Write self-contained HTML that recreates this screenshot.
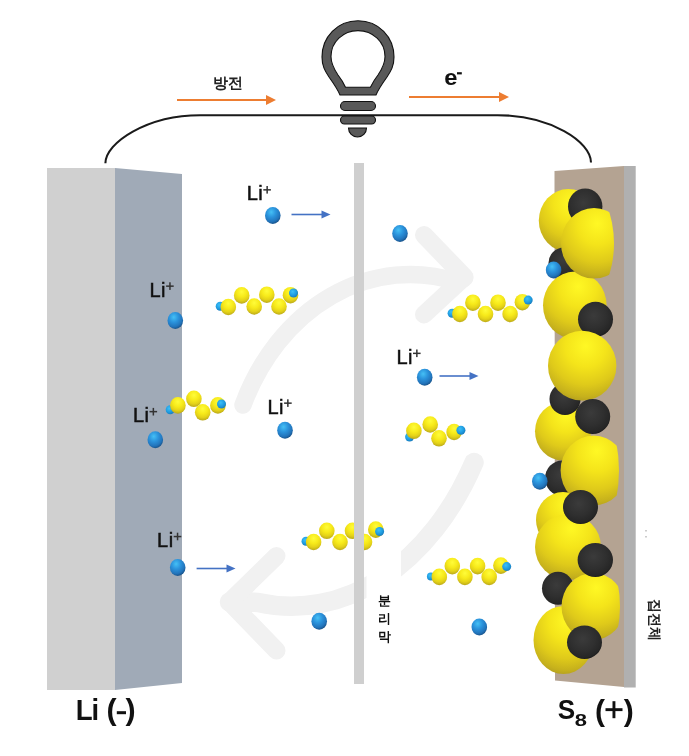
<!DOCTYPE html><html><head><meta charset="utf-8"><style>
html,body{margin:0;padding:0;background:#fff;width:689px;height:756px;overflow:hidden}
svg{display:block;will-change:transform}
text{font-family:"Liberation Sans",sans-serif}
</style></head><body>
<svg width="689" height="756" viewBox="0 0 689 756">
<defs>
<radialGradient id="gIon" cx="40%" cy="30%" r="75%">
<stop offset="0" stop-color="#45c0f5"/><stop offset="0.4" stop-color="#2b93dc"/><stop offset="0.75" stop-color="#2274bb"/><stop offset="1" stop-color="#174a7c"/></radialGradient>
<radialGradient id="gTip" cx="40%" cy="35%" r="70%">
<stop offset="0" stop-color="#3cc0f8"/><stop offset="0.6" stop-color="#1e9be0"/><stop offset="1" stop-color="#1a78b8"/></radialGradient>
<radialGradient id="gY" cx="50%" cy="28%" r="78%">
<stop offset="0" stop-color="#fffc3a"/><stop offset="0.4" stop-color="#f7ea1a"/><stop offset="0.68" stop-color="#e4d218"/><stop offset="0.88" stop-color="#c2b01a"/><stop offset="1" stop-color="#9c8c18"/></radialGradient>
<radialGradient id="gBY" cx="55%" cy="22%" r="85%">
<stop offset="0" stop-color="#fff824"/><stop offset="0.35" stop-color="#f4e41a"/><stop offset="0.65" stop-color="#dfca1a"/><stop offset="0.85" stop-color="#c6b11c"/><stop offset="1" stop-color="#a89420"/></radialGradient>
<radialGradient id="gD" cx="45%" cy="40%" r="65%">
<stop offset="0" stop-color="#3b3b3b"/><stop offset="0.55" stop-color="#2f2f2f"/><stop offset="0.85" stop-color="#262626"/><stop offset="1" stop-color="#141414"/></radialGradient>
</defs>
<rect width="689" height="756" fill="#fff"/>

<g fill="none" stroke="#f1f1f1" stroke-linecap="round" stroke-linejoin="round">
<path stroke-width="17.5" d="M243,405 A183,219.6 0 0 1 458,282 L464.5,278"/>
<path stroke-width="18" d="M424,235 L464.5,277 L424,314.5"/>
<path stroke-width="19.5" d="M474,462.5 A212.1,294.5 0 0 1 258,602.4 L229.5,602"/>
<path stroke-width="18" d="M276.5,556 L229.5,602 L276.5,650.5"/>
</g>
<rect x="47" y="168" width="68" height="522" fill="#d0d0d0"/>
<path d="M115,168 L182,174 L182,683 L115,690 Z" fill="#a0aab7"/>
<path d="M554.5,171 L624,166 L624,687 L555,680.5 Z" fill="#b4a392"/>
<rect x="624" y="166" width="11.7" height="521.5" fill="#b0b0b0"/>
<path d="M105.4,163.3 C105.4,142.8 146.9,115.2 200.2,115.2 L497.7,115.2 C550.4,115.2 591,141.7 591,162.5" fill="none" stroke="#1a1a1a" stroke-width="2.1"/>
<g stroke="#111" stroke-width="1.1" fill="#595959">
<path d="M358,20.8 C378.5,20.8 394,37 394,57 C394,66 391,71 387,77 C382,84 378.5,89 376,95 L340,95 C337.5,89 334,84 329,77 C325,71 322,66 322,57 C322,37 337.5,20.8 358,20.8 Z M358,30.6 C373,30.6 385,42 385,56.4 C385,64 382,69 378,75 C374,80 372,84 370.4,87.3 L345.5,87.3 C344,84 342,80 338,75 C334,69 331,64 331,56.4 C331,42 343,30.6 358,30.6 Z" fill-rule="evenodd"/>
<rect x="340.5" y="101.5" width="35" height="9" rx="4.5"/>
<rect x="340.5" y="116" width="35" height="8" rx="4"/>
<path d="M348.5,128 L366.5,128 A9,9 0 0 1 348.5,128 Z"/>
</g>
<text x="228" y="88" font-size="15" font-weight="bold" text-anchor="middle" fill="#222">방전</text>
<line x1="177" y1="100" x2="268" y2="100" stroke="#ed7d31" stroke-width="2.2"/><path d="M266,95 L276,100 L266,105 Z" fill="#ed7d31"/>
<text transform="translate(444.2,84.6) scale(1.08,1)" font-size="22" font-weight="bold" fill="#111">e</text>
<rect x="457" y="72.2" width="4.8" height="2.2" fill="#111"/>
<line x1="409" y1="97" x2="501" y2="97" stroke="#ed7d31" stroke-width="2.2"/><path d="M499,92 L509,97 L499,102 Z" fill="#ed7d31"/>
<text x="246.7" y="200.3" font-size="20" letter-spacing="0.5" fill="#111" stroke="#111" stroke-width="0.5">Li</text><rect x="263.3" y="189.1" width="7.6" height="1.5" fill="#333"/><rect x="266.4" y="186.0" width="1.5" height="7.6" fill="#333"/>
<ellipse cx="272.8" cy="215.5" rx="7.8" ry="8.5" fill="url(#gIon)"/>
<line x1="291.5" y1="214.5" x2="322.5" y2="214.5" stroke="#4472c4" stroke-width="1.6"/><path d="M321.5,210.5 L330.5,214.5 L321.5,218.5 Z" fill="#4472c4"/>
<text x="149.5" y="296.6" font-size="20" letter-spacing="0.5" fill="#111" stroke="#111" stroke-width="0.5">Li</text><rect x="166.1" y="285.4" width="7.6" height="1.5" fill="#333"/><rect x="169.2" y="282.3" width="1.5" height="7.6" fill="#333"/>
<ellipse cx="175.3" cy="320.6" rx="7.8" ry="8.5" fill="url(#gIon)"/>
<circle cx="220.2" cy="306.3" r="4.5" fill="url(#gTip)"/><ellipse cx="228.3" cy="307" rx="7.8" ry="8.3" fill="url(#gY)"/><ellipse cx="241.7" cy="295.4" rx="7.8" ry="8.3" fill="url(#gY)"/><ellipse cx="254.2" cy="306.5" rx="7.8" ry="8.3" fill="url(#gY)"/><ellipse cx="266.8" cy="294.7" rx="7.8" ry="8.3" fill="url(#gY)"/><ellipse cx="279" cy="306.5" rx="7.8" ry="8.3" fill="url(#gY)"/><ellipse cx="290.5" cy="295.2" rx="7.8" ry="8.3" fill="url(#gY)"/><circle cx="293.5" cy="293" r="4.5" fill="url(#gTip)"/>
<text x="132.9" y="422.2" font-size="20" letter-spacing="0.5" fill="#111" stroke="#111" stroke-width="0.5">Li</text><rect x="149.5" y="410.9" width="7.6" height="1.5" fill="#333"/><rect x="152.6" y="407.9" width="1.5" height="7.6" fill="#333"/>
<ellipse cx="155.3" cy="439.8" rx="7.8" ry="8.5" fill="url(#gIon)"/>
<circle cx="170.2" cy="409.8" r="4.5" fill="url(#gTip)"/><ellipse cx="177.9" cy="405.4" rx="7.8" ry="8.3" fill="url(#gY)"/><ellipse cx="193.9" cy="398.8" rx="7.8" ry="8.3" fill="url(#gY)"/><ellipse cx="202.7" cy="412.3" rx="7.8" ry="8.3" fill="url(#gY)"/><ellipse cx="217.9" cy="405.4" rx="7.8" ry="8.3" fill="url(#gY)"/><circle cx="221.5" cy="404" r="4.5" fill="url(#gTip)"/>
<text x="267.5" y="413.6" font-size="20" letter-spacing="0.5" fill="#111" stroke="#111" stroke-width="0.5">Li</text><rect x="284.1" y="402.4" width="7.6" height="1.5" fill="#333"/><rect x="287.1" y="399.3" width="1.5" height="7.6" fill="#333"/>
<ellipse cx="285" cy="430.3" rx="7.8" ry="8.5" fill="url(#gIon)"/>
<text x="157.1" y="547" font-size="20" letter-spacing="0.5" fill="#111" stroke="#111" stroke-width="0.5">Li</text><rect x="173.7" y="535.8" width="7.6" height="1.5" fill="#333"/><rect x="176.8" y="532.7" width="1.5" height="7.6" fill="#333"/>
<ellipse cx="177.7" cy="567.4" rx="7.8" ry="8.5" fill="url(#gIon)"/>
<line x1="196.6" y1="568.5" x2="227.5" y2="568.5" stroke="#4472c4" stroke-width="1.6"/><path d="M226.5,564.5 L235.5,568.5 L226.5,572.5 Z" fill="#4472c4"/>
<circle cx="306" cy="541.3" r="4.5" fill="url(#gTip)"/><ellipse cx="313.6" cy="542" rx="7.8" ry="8.3" fill="url(#gY)"/><ellipse cx="326.8" cy="530.8" rx="7.8" ry="8.3" fill="url(#gY)"/><ellipse cx="340" cy="542" rx="7.8" ry="8.3" fill="url(#gY)"/><ellipse cx="352.5" cy="530.8" rx="7.8" ry="8.3" fill="url(#gY)"/><ellipse cx="364.5" cy="542" rx="7.8" ry="8.3" fill="url(#gY)"/><ellipse cx="375.8" cy="529.6" rx="7.8" ry="8.3" fill="url(#gY)"/><circle cx="379.6" cy="531.5" r="4.5" fill="url(#gTip)"/>
<ellipse cx="319.2" cy="621.3" rx="7.8" ry="8.5" fill="url(#gIon)"/>
<rect x="366.5" y="551" width="34.5" height="110" fill="#fff"/>
<rect x="354" y="163" width="10" height="521" fill="#cfcfcf"/>
<text font-size="13" font-weight="bold" fill="#111"><tspan x="378" y="604.5">분</tspan><tspan x="378" y="622.5">리</tspan><tspan x="378" y="640.5">막</tspan></text>
<ellipse cx="400" cy="233.5" rx="7.8" ry="8.5" fill="url(#gIon)"/>
<circle cx="452.1" cy="313.2" r="4.5" fill="url(#gTip)"/><ellipse cx="459.9" cy="314" rx="7.8" ry="8.3" fill="url(#gY)"/><ellipse cx="472.9" cy="302.7" rx="7.8" ry="8.3" fill="url(#gY)"/><ellipse cx="485.5" cy="314" rx="7.8" ry="8.3" fill="url(#gY)"/><ellipse cx="498" cy="302.7" rx="7.8" ry="8.3" fill="url(#gY)"/><ellipse cx="510.1" cy="314" rx="7.8" ry="8.3" fill="url(#gY)"/><ellipse cx="522.4" cy="302.2" rx="7.8" ry="8.3" fill="url(#gY)"/><circle cx="528.2" cy="300.1" r="4.5" fill="url(#gTip)"/>
<text x="396.40000000000003" y="363.8" font-size="20" letter-spacing="0.5" fill="#111" stroke="#111" stroke-width="0.5">Li</text><rect x="413.0" y="352.6" width="7.6" height="1.5" fill="#333"/><rect x="416.1" y="349.5" width="1.5" height="7.6" fill="#333"/>
<ellipse cx="424.7" cy="377.3" rx="7.8" ry="8.5" fill="url(#gIon)"/>
<line x1="439.5" y1="376" x2="470.5" y2="376" stroke="#4472c4" stroke-width="1.6"/><path d="M469.5,372 L478.5,376 L469.5,380 Z" fill="#4472c4"/>
<circle cx="409.6" cy="437" r="4.5" fill="url(#gTip)"/><ellipse cx="413.9" cy="430.8" rx="7.8" ry="8.3" fill="url(#gY)"/><ellipse cx="430.2" cy="424.5" rx="7.8" ry="8.3" fill="url(#gY)"/><ellipse cx="439" cy="438.3" rx="7.8" ry="8.3" fill="url(#gY)"/><ellipse cx="454.1" cy="432" rx="7.8" ry="8.3" fill="url(#gY)"/><circle cx="460.9" cy="430.3" r="4.5" fill="url(#gTip)"/>
<circle cx="430.9" cy="576.6" r="4" fill="url(#gTip)"/><ellipse cx="439.3" cy="576.9" rx="7.8" ry="8.3" fill="url(#gY)"/><ellipse cx="452.3" cy="566.1" rx="7.8" ry="8.3" fill="url(#gY)"/><ellipse cx="464.9" cy="576.9" rx="7.8" ry="8.3" fill="url(#gY)"/><ellipse cx="477.6" cy="566.1" rx="7.8" ry="8.3" fill="url(#gY)"/><ellipse cx="489.2" cy="576.9" rx="7.8" ry="8.3" fill="url(#gY)"/><ellipse cx="500.9" cy="565.6" rx="7.8" ry="8.3" fill="url(#gY)"/><circle cx="506.7" cy="566.6" r="4.5" fill="url(#gTip)"/>
<ellipse cx="479.3" cy="627.1" rx="7.8" ry="8.5" fill="url(#gIon)"/>
<defs><clipPath id="c3"><circle cx="507" cy="243.3" r="107"/></clipPath><clipPath id="c12"><circle cx="471" cy="470.5" r="148"/></clipPath><clipPath id="c19"><circle cx="500" cy="606.5" r="120"/></clipPath></defs>
<ellipse cx="568.3" cy="220.5" rx="29.5" ry="31.5" fill="url(#gBY)"/>
<ellipse cx="585.2" cy="206.5" rx="17.2" ry="18" fill="url(#gD)"/>
<ellipse cx="564" cy="263" rx="15.5" ry="15.5" fill="url(#gD)"/>
<ellipse cx="553.6" cy="270" rx="7.8" ry="8.5" fill="url(#gIon)"/>
<ellipse cx="574.8" cy="305.3" rx="31.8" ry="33.7" fill="url(#gBY)"/>
<ellipse cx="594" cy="243.3" rx="33" ry="35.3" fill="url(#gBY)" clip-path="url(#c3)"/>
<ellipse cx="595.5" cy="319.3" rx="17.5" ry="17.5" fill="url(#gD)"/>
<ellipse cx="563" cy="431.3" rx="28" ry="29.3" fill="url(#gBY)"/>
<ellipse cx="565" cy="399" rx="15.5" ry="16" fill="url(#gD)"/>
<ellipse cx="582.2" cy="365.7" rx="34.2" ry="34.9" fill="url(#gBY)"/>
<ellipse cx="592.7" cy="416.5" rx="17.5" ry="17.5" fill="url(#gD)"/>
<ellipse cx="562" cy="478.3" rx="17" ry="17.7" fill="url(#gD)"/>
<ellipse cx="539.8" cy="481.3" rx="7.8" ry="8.5" fill="url(#gIon)"/>
<ellipse cx="563" cy="520" rx="27" ry="28" fill="url(#gBY)"/>
<ellipse cx="593.6" cy="470.5" rx="33" ry="35" fill="url(#gBY)" clip-path="url(#c12)"/>
<ellipse cx="568" cy="547" rx="33" ry="33" fill="url(#gBY)"/>
<ellipse cx="580.5" cy="507" rx="17.5" ry="17" fill="url(#gD)"/>
<ellipse cx="563.5" cy="640" rx="30" ry="34" fill="url(#gBY)"/>
<ellipse cx="558" cy="588.3" rx="16" ry="16.5" fill="url(#gD)"/>
<ellipse cx="593" cy="606.5" rx="31.5" ry="33.5" fill="url(#gBY)" clip-path="url(#c19)"/>
<ellipse cx="595.3" cy="560" rx="17.7" ry="17" fill="url(#gD)"/>
<ellipse cx="584.5" cy="642.3" rx="17.5" ry="16.7" fill="url(#gD)"/>
<text transform="translate(75.75,719.6) scale(0.91,1)" x="0" y="0" font-size="30.4" font-weight="bold" fill="#111">L</text>
<text transform="translate(91.49,719.6) scale(0.9,1)" x="0" y="0" font-size="30.4" font-weight="bold" fill="#111">i</text>
<text transform="translate(106.59,720.2) scale(1.0,1)" x="0" y="0" font-size="30.4" font-weight="bold" fill="#111">(</text>
<rect x="116.8" y="711.2" width="9.2" height="3" fill="#111"/>
<text transform="translate(125.47,720.2) scale(1.0,1)" x="0" y="0" font-size="30.4" font-weight="bold" fill="#111">)</text>
<text transform="translate(557.75,719.4) scale(0.93,1)" x="0" y="0" font-size="28.1" font-weight="bold" fill="#111">S</text>
<text transform="translate(574.80,726) scale(1.3,1)" x="0" y="0" font-size="16.9" font-weight="bold" fill="#111">8</text>
<text transform="translate(594.90,720.9) scale(1.0,1)" x="0" y="0" font-size="30.1" font-weight="bold" fill="#111">(</text>
<rect x="605.5" y="708.2" width="17" height="2.9" fill="#111"/><rect x="612.5" y="701.2" width="2.9" height="17" fill="#111"/>
<text transform="translate(623.77,720.9) scale(1.0,1)" x="0" y="0" font-size="30.1" font-weight="bold" fill="#111">)</text>
<text transform="translate(650,599) rotate(90)" font-size="14" font-weight="bold" fill="#222">집전체</text>
<rect x="645.5" y="530" width="1" height="1.5" fill="#999"/><rect x="645.5" y="536" width="1" height="1.5" fill="#999"/>
</svg></body></html>
